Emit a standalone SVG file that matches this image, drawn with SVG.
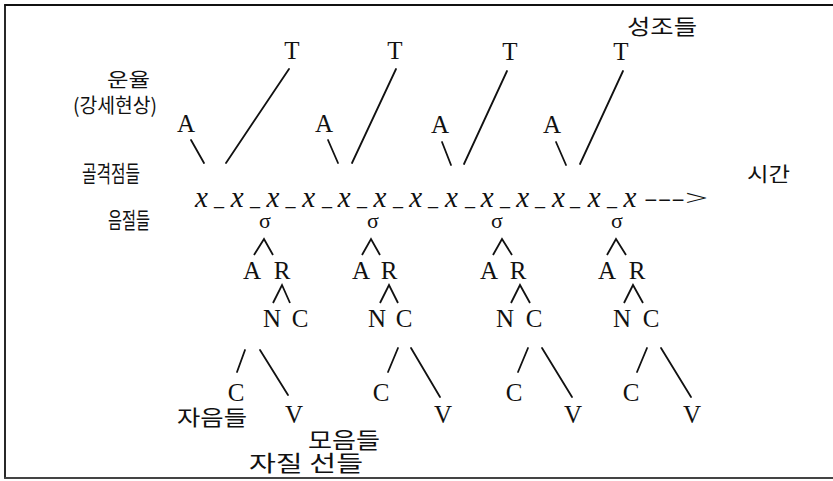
<svg xmlns="http://www.w3.org/2000/svg" width="833" height="481" viewBox="0 0 833 481">
<style>
.s{font-family:"Liberation Serif","Times New Roman",serif;font-size:25px;fill:#111;text-anchor:middle}
.k{font-family:"Noto Sans CJK KR","Noto Sans",sans-serif;fill:#111}
.x{font-family:"Liberation Serif",serif;font-style:italic;font-size:29px;fill:#111;text-anchor:middle}
.u{font-family:"Liberation Serif",serif;font-size:20px;fill:#111;text-anchor:middle}
.ar{font-family:"Liberation Serif",serif;font-size:22px;fill:#111;text-anchor:start}
.g{font-family:"Liberation Serif","DejaVu Serif",serif;font-size:22px;fill:#111;text-anchor:middle}
line{stroke:#111;stroke-width:1.8;stroke-linecap:round}
polyline{fill:none;stroke:#111;stroke-width:1.8}
</style>
<rect width="833" height="481" fill="#fff"/>
<g id="frame">
<line x1="5" y1="5" x2="833" y2="5" stroke-width="2"/>
<line x1="5" y1="5" x2="5" y2="478" stroke-width="2"/>
<line x1="5" y1="478" x2="833" y2="478" stroke-width="1.5" style="stroke:#444"/>
</g>
<g id="labels">
<text id="seongjo" class="k" x="627" y="34" font-size="21" textLength="70" lengthAdjust="spacingAndGlyphs">성조들</text>
<text id="unyul" class="k" x="107" y="87" font-size="19" textLength="43" lengthAdjust="spacingAndGlyphs">운율</text>
<text id="gangse" class="k" x="73" y="113" font-size="20" textLength="84" lengthAdjust="spacingAndGlyphs">(강세현상)</text>
<text id="golgyeok" class="k" x="82" y="182" font-size="23" textLength="58" lengthAdjust="spacingAndGlyphs">골격점들</text>
<text id="eumjeol" class="k" x="108" y="228" font-size="22" textLength="42" lengthAdjust="spacingAndGlyphs">음절들</text>
<text id="sigan" class="k" x="747" y="182" font-size="20" textLength="43" lengthAdjust="spacingAndGlyphs">시간</text>
<text id="jaeum" class="k" x="177" y="425" font-size="21" textLength="70" lengthAdjust="spacingAndGlyphs">자음들</text>
<text id="moeum" class="k" x="308" y="448" font-size="22" textLength="72" lengthAdjust="spacingAndGlyphs">모음들</text>
<text id="jajil" class="k" x="249" y="471" font-size="22" textLength="114" lengthAdjust="spacingAndGlyphs">자질 선들</text>
</g>
<g id="tones">
<text id="T1" class="s" x="292" y="59">T</text>
<text id="T2" class="s" x="395" y="59">T</text>
<text id="T3" class="s" x="510" y="60">T</text>
<text id="T4" class="s" x="621" y="60">T</text>
</g>
<g id="accents">
<text id="A1" class="s" x="186" y="132">A</text>
<text id="A2" class="s" x="324" y="132">A</text>
<text id="A3" class="s" x="440" y="133">A</text>
<text id="A4" class="s" x="552" y="133">A</text>
</g>
<g id="skeleton">
<text class="x" y="207" x="201.5,237.2,272.9,308.6,344.3,380,415.7,451.4,487.1,522.8,558.5,594.2,630">xxxxxxxxxxxxx</text>
<text class="u" y="205" x="219,255,290.5,327,362,398,433,470,505,540,575,612">____________</text>
<text id="arrow" class="ar" x="644" y="205" textLength="64" lengthAdjust="spacingAndGlyphs">---&gt;</text>
</g>
<g id="syllable1">
<text class="g" x="265" y="228">σ</text>
<text class="s" x="252" y="279">A</text>
<text class="s" x="282" y="279">R</text>
<text class="s" x="272" y="327">N</text>
<text class="s" x="300" y="327">C</text>
<text class="s" x="236" y="401">C</text>
<text class="s" x="294" y="423">V</text>
</g>
<g id="syllable2">
<text class="g" x="373" y="228">σ</text>
<text class="s" x="361" y="279">A</text>
<text class="s" x="389" y="279">R</text>
<text class="s" x="377" y="327">N</text>
<text class="s" x="404" y="327">C</text>
<text class="s" x="381" y="401">C</text>
<text class="s" x="443" y="423">V</text>
</g>
<g id="syllable3">
<text class="g" x="497" y="228">σ</text>
<text class="s" x="489" y="279">A</text>
<text class="s" x="518" y="279">R</text>
<text class="s" x="505" y="327">N</text>
<text class="s" x="534" y="327">C</text>
<text class="s" x="514" y="401">C</text>
<text class="s" x="573" y="423">V</text>
</g>
<g id="syllable4">
<text class="g" x="617" y="228">σ</text>
<text class="s" x="607" y="279">A</text>
<text class="s" x="637" y="279">R</text>
<text class="s" x="622" y="327">N</text>
<text class="s" x="651" y="327">C</text>
<text class="s" x="631" y="401">C</text>
<text class="s" x="692" y="423">V</text>
</g>
<g id="connectors">
<line x1="289" y1="69" x2="226" y2="163"/>
<line x1="396" y1="69" x2="352" y2="163"/>
<line x1="507" y1="71" x2="464" y2="164"/>
<line x1="623" y1="71" x2="580" y2="164"/>
<line x1="191" y1="140" x2="204" y2="163"/>
<line x1="328" y1="140" x2="338" y2="163"/>
<line x1="442" y1="142" x2="451" y2="165"/>
<line x1="556" y1="142" x2="566" y2="165"/>
<polyline points="254,255 264,239 273,255"/>
<polyline points="273,303 282,285 290,303"/>
<line x1="245" y1="350" x2="237" y2="372"/>
<line x1="260" y1="350" x2="288" y2="395"/>
<polyline points="362,255 371,239 380,255"/>
<polyline points="380,303 389,285 398,303"/>
<line x1="398" y1="348" x2="388" y2="372"/>
<line x1="411" y1="348" x2="440" y2="397"/>
<polyline points="493,255 502,239 512,255"/>
<polyline points="511,303 520,285 530,303"/>
<line x1="528" y1="348" x2="518" y2="372"/>
<line x1="542" y1="348" x2="572" y2="397"/>
<polyline points="607,255 616,239 626,255"/>
<polyline points="624,303 633,285 643,303"/>
<line x1="647" y1="348" x2="637" y2="372"/>
<line x1="661" y1="348" x2="691" y2="397"/>
</g>
</svg>
